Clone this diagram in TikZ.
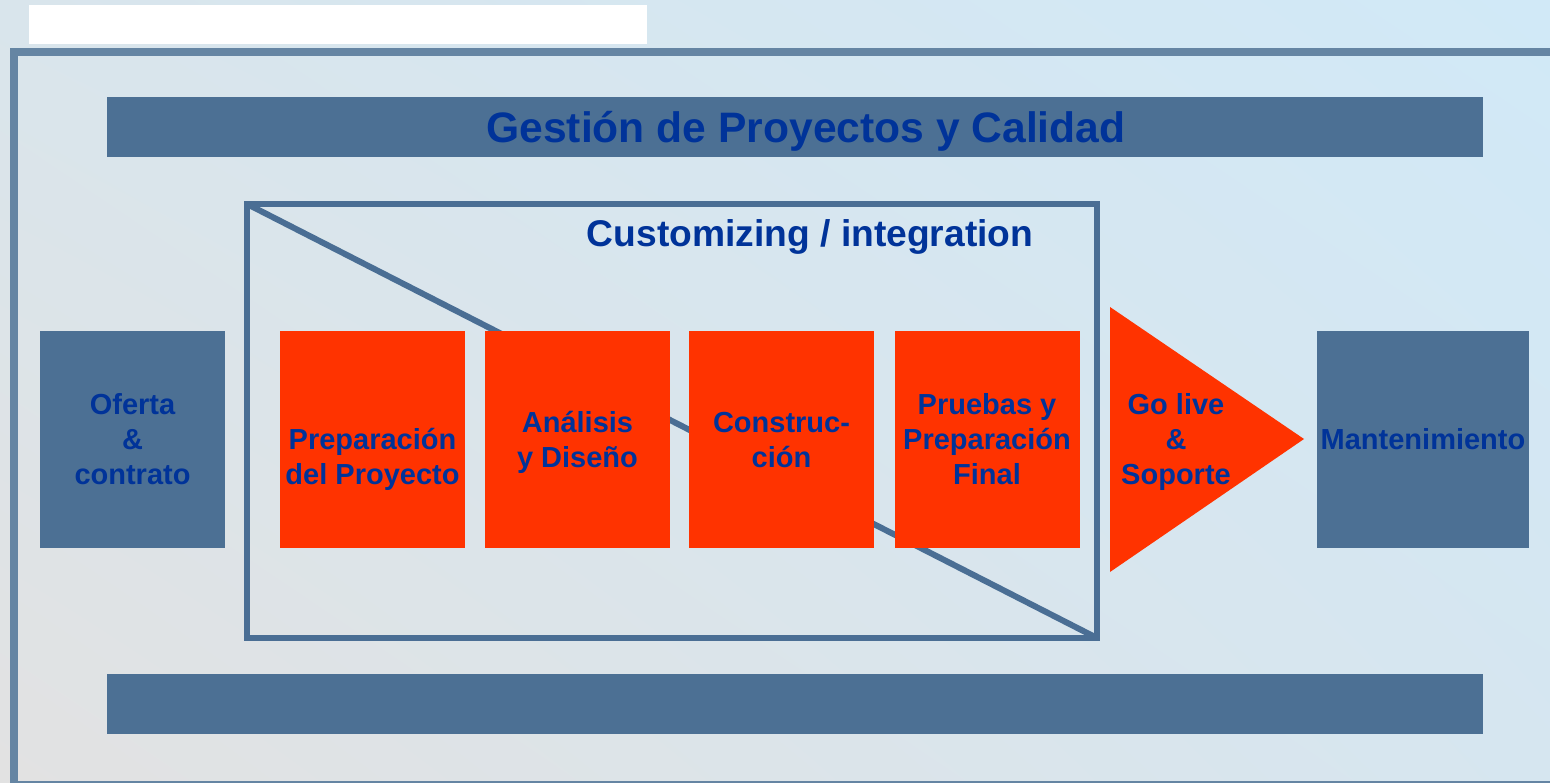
\documentclass[tikz,border=0pt]{standalone}
\usepackage{fontspec}
\usetikzlibrary{shadings}
\setmainfont{Liberation Sans}
\definecolor{barblue}{RGB}{76,112,148}
\definecolor{framein}{RGB}{74,110,148}
\definecolor{frameout}{RGB}{101,133,163}
\definecolor{phaseorange}{RGB}{255,51,0}
\definecolor{txtblue}{RGB}{0,51,153}
\definecolor{bgul}{RGB}{217,229,236}
\definecolor{bgur}{RGB}{209,233,247}
\definecolor{bgll}{RGB}{226,226,226}
\definecolor{bglr}{RGB}{214,230,240}
\begin{document}
\begin{tikzpicture}[x=1pt,y=-1pt,
  bar/.style={fill=barblue,draw=none,inner sep=0pt},
  phasebox/.style={fill=phaseorange,draw=none,inner sep=0pt,minimum width=185pt,minimum height=217pt},
  sidebox/.style={fill=barblue,draw=none,inner sep=0pt,minimum height=217pt},
  lbl/.style={text=txtblue,font=\fontsize{29}{35}\selectfont\bfseries,align=center,inner sep=0pt,anchor=base},
]
\useasboundingbox (0,0) rectangle (1550,783);
\shade[upper left=bgul,upper right=bgur,lower left=bgll,lower right=bglr] (0,0) rectangle (1550,783);
% white label area
\fill[white] (29,5) rectangle (647,44);
% outer frame
\draw[frameout,line width=8pt] (14,52) rectangle (1562,785);
% top and bottom bars
\node[bar,minimum width=1376pt,minimum height=60pt] (topbar) at (795,127) {};
\node[text=txtblue,font=\fontsize{42.6}{50}\selectfont\bfseries,inner sep=0pt,anchor=base] (title) at (806,143) {Gestión de Proyectos y Calidad};
\node[bar,minimum width=1376pt,minimum height=60pt] (botbar) at (795,704) {};
% customizing frame
\coordinate (cTL) at (247,204);
\coordinate (cBR) at (1097,638);
\draw[framein,line width=6pt] (cTL) rectangle (cBR);
\draw[framein,line width=6pt] (cTL) -- (cBR);
\node[text=txtblue,font=\fontsize{37.2}{44}\selectfont\bfseries,inner sep=0pt,anchor=base] (cust) at (810,247) {Customizing / integration};
% side boxes
\node[sidebox,minimum width=185pt] (oferta) at (132.5,439.5) {};
\node[lbl] (tof) at (132.5,484) {Oferta\\\&\\contrato};
\node[sidebox,minimum width=212pt] (mant) at (1423,439.5) {};
\node[lbl] (tmant) at (1423,449) {Mantenimiento};
% phases
\node[phasebox] (p1) at (372.5,439.5) {};
\node[lbl] (t1) at (372.5,484) {Preparación\\del Proyecto};
\node[phasebox] (p2) at (577.5,439.5) {};
\node[lbl] (t2) at (577.5,467) {Análisis\\y Diseño};
\node[phasebox] (p3) at (781.5,439.5) {};
\node[lbl] (t3) at (781.5,467) {Construc-\\ción};
\node[phasebox] (p4) at (987,439.5) {};
\node[lbl] (t4) at (987,484) {Pruebas y\\Preparación\\Final};
% go live triangle
\coordinate (gA) at (1110,307);
\coordinate (gB) at (1110,572);
\coordinate (gC) at (1304,439);
\fill[phaseorange] (gA) -- (gC) -- (gB) -- cycle;
\node[lbl] (tgo) at (1176,484) {Go live\\\&\\Soporte};
\end{tikzpicture}
\end{document}
